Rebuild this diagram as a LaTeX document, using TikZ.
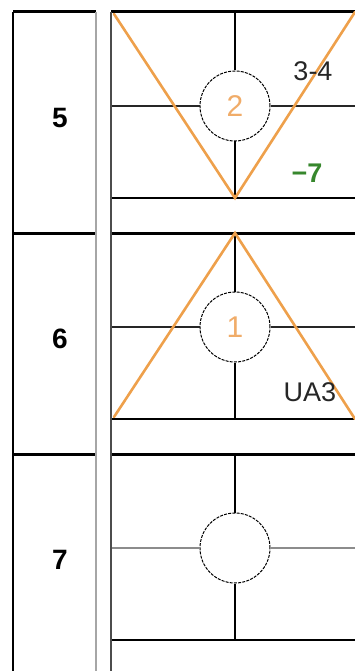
\documentclass[tikz,border=0pt]{standalone}
\usepackage{fontspec}
\setmainfont{Liberation Sans}
\usepackage{tikz}
\usetikzlibrary{positioning}

\definecolor{cutorange}{RGB}{238,160,75}
\definecolor{numorange}{RGB}{240,172,105}
\definecolor{tagreen}{RGB}{55,135,45}

\begin{document}
\begin{tikzpicture}[
    x=1pt, y=-1pt,
    ring/.style={circle, draw, dashed, dash pattern=on 3pt off 1.2pt, line width=1pt, minimum size=70pt, inner sep=0pt, font=\fontsize{30}{34}\selectfont, text=numorange},
    rowlabel/.style={font=\fontsize{28}{32}\selectfont\bfseries},
    tag/.style={font=\fontsize{27}{30}\selectfont, text=black!85},
    rowline/.style={line width=3pt},
    grid/.style={line width=1.2pt},
    cut/.style={line width=2.6pt, draw=cutorange, line cap=round}
]
\useasboundingbox (0,0) rectangle (355,671);

% Rows
\foreach \r/\t/\g in {5/12/black!85, 6/233/black!85, 7/454/black!45} {
  \node[ring] (c\r) at (235,\t+94) {};
  \node[rowlabel] (n\r) at (60,\t+106) {\r};
  \coordinate (top\r) at (235,\t);
  \coordinate (bot\r) at (235,\t+186);
  \coordinate (w\r) at (111,\t+94);
  \coordinate (e\r) at (355,\t+94);
  \coordinate (bl\r) at (111,\t+186);
  \coordinate (br\r) at (355,\t+186);
  \draw[rowline] (13,\t) -- (96,\t);
  \draw[rowline] (111,\t) -- (355,\t);
  \draw[grid] (top\r) -- (c\r.north);
  \draw[grid] (c\r.south) -- (bot\r);
  \draw[grid, draw=\g] (w\r) -- (c\r.west);
  \draw[grid, draw=\g] (c\r.east) -- (e\r);
  \draw[grid] (bl\r) -- (br\r);
}

% Columns
\draw[line width=2pt] (13,12) -- (13,671);
\draw[line width=2pt, draw=black!35] (96,12) -- (96,671);
\draw[line width=1.5pt, draw=black!70] (111,12) -- (111,671);

% Cut lines
\draw[cut] (114,14) -- (bot5) -- (355,12);
\draw[cut] (114,417) -- (top6) -- (355,419);

% Circle numbers and tags
\node[font=\fontsize{30}{34}\selectfont, text=numorange] at (c5) {2};
\node[font=\fontsize{30}{34}\selectfont, text=numorange] at (c6) {1};
\node[tag] (t34) at (313,71) {3-4};
\node[tag, font=\fontsize{27}{30}\selectfont\bfseries, text=tagreen] (t7) at (307,173) {−7};
\node[tag] (tua) at (310,392) {UA3};

\end{tikzpicture}
\end{document}
